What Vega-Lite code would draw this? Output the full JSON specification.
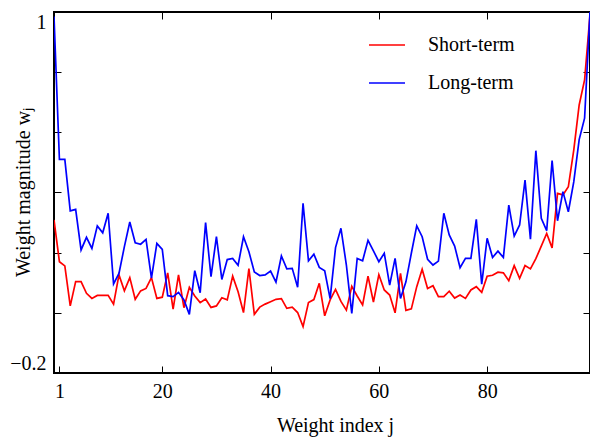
{
  "$schema": "https://vega.github.io/schema/vega-lite/v6.json",
  "width": 536,
  "height": 361,
  "autosize": {"type": "none"},
  "padding": {"left": 54, "top": 12, "right": 0, "bottom": 65},
  "background": "white",
  "config": {
    "font": "Liberation Serif",
    "view": {"stroke": "black", "strokeWidth": 2},
    "axis": {"grid": false, "domain": false, "tickColor": "black", "tickWidth": 1, "tickSize": -7, "labelColor": "black", "labelFontSize": 20, "titleFontSize": 20, "titleFontWeight": "normal", "titleColor": "black", "labelPadding": 15}
  },
  "data": {"values": [
    {"j":0,"Short-term":0.309,"Long-term":0.985},
    {"j":1,"Short-term":0.170,"Long-term":0.510},
    {"j":2,"Short-term":0.156,"Long-term":0.510},
    {"j":3,"Short-term":0.023,"Long-term":0.339},
    {"j":4,"Short-term":0.104,"Long-term":0.344},
    {"j":5,"Short-term":0.104,"Long-term":0.209},
    {"j":6,"Short-term":0.065,"Long-term":0.251},
    {"j":7,"Short-term":0.048,"Long-term":0.214},
    {"j":8,"Short-term":0.058,"Long-term":0.289},
    {"j":9,"Short-term":0.058,"Long-term":0.266},
    {"j":10,"Short-term":0.058,"Long-term":0.331},
    {"j":11,"Short-term":0.029,"Long-term":0.096},
    {"j":12,"Short-term":0.126,"Long-term":0.131},
    {"j":13,"Short-term":0.073,"Long-term":0.220},
    {"j":14,"Short-term":0.117,"Long-term":0.302},
    {"j":15,"Short-term":0.045,"Long-term":0.233},
    {"j":16,"Short-term":0.073,"Long-term":0.228},
    {"j":17,"Short-term":0.081,"Long-term":0.244},
    {"j":18,"Short-term":0.117,"Long-term":0.115},
    {"j":19,"Short-term":0.048,"Long-term":0.231},
    {"j":20,"Short-term":0.052,"Long-term":0.211},
    {"j":21,"Short-term":0.133,"Long-term":0.057},
    {"j":22,"Short-term":0.012,"Long-term":0.054},
    {"j":23,"Short-term":0.126,"Long-term":0.068},
    {"j":24,"Short-term":0.017,"Long-term":0.043},
    {"j":25,"Short-term":0.085,"Long-term":-0.005},
    {"j":26,"Short-term":0.056,"Long-term":0.140},
    {"j":27,"Short-term":0.034,"Long-term":0.067},
    {"j":28,"Short-term":0.046,"Long-term":0.300},
    {"j":29,"Short-term":0.018,"Long-term":0.120},
    {"j":30,"Short-term":0.023,"Long-term":0.253},
    {"j":31,"Short-term":0.050,"Long-term":0.111},
    {"j":32,"Short-term":0.043,"Long-term":0.177},
    {"j":33,"Short-term":0.122,"Long-term":0.181},
    {"j":34,"Short-term":0.070,"Long-term":0.158},
    {"j":35,"Short-term":0.001,"Long-term":0.253},
    {"j":36,"Short-term":0.147,"Long-term":0.203},
    {"j":37,"Short-term":-0.005,"Long-term":0.136},
    {"j":38,"Short-term":0.019,"Long-term":0.124},
    {"j":39,"Short-term":0.029,"Long-term":0.126},
    {"j":40,"Short-term":0.037,"Long-term":0.139},
    {"j":41,"Short-term":0.045,"Long-term":0.102},
    {"j":42,"Short-term":0.047,"Long-term":0.189},
    {"j":43,"Short-term":0.015,"Long-term":0.146},
    {"j":44,"Short-term":0.019,"Long-term":0.148},
    {"j":45,"Short-term":0.001,"Long-term":0.085},
    {"j":46,"Short-term":-0.046,"Long-term":0.364},
    {"j":47,"Short-term":0.034,"Long-term":0.173},
    {"j":48,"Short-term":0.044,"Long-term":0.195},
    {"j":49,"Short-term":0.098,"Long-term":0.151},
    {"j":50,"Short-term":-0.010,"Long-term":0.140},
    {"j":51,"Short-term":0.043,"Long-term":0.047},
    {"j":52,"Short-term":0.078,"Long-term":0.217},
    {"j":53,"Short-term":0.038,"Long-term":0.281},
    {"j":54,"Short-term":0.009,"Long-term":0.159},
    {"j":55,"Short-term":0.088,"Long-term":-0.002},
    {"j":56,"Short-term":0.056,"Long-term":0.181},
    {"j":57,"Short-term":0.026,"Long-term":0.173},
    {"j":58,"Short-term":0.122,"Long-term":0.241},
    {"j":59,"Short-term":0.036,"Long-term":0.206},
    {"j":60,"Short-term":0.127,"Long-term":0.170},
    {"j":61,"Short-term":0.076,"Long-term":0.198},
    {"j":62,"Short-term":0.059,"Long-term":0.092},
    {"j":63,"Short-term":0.000,"Long-term":0.181},
    {"j":64,"Short-term":0.131,"Long-term":0.048},
    {"j":65,"Short-term":0.008,"Long-term":0.103},
    {"j":66,"Short-term":0.013,"Long-term":0.198},
    {"j":67,"Short-term":0.087,"Long-term":0.289},
    {"j":68,"Short-term":0.145,"Long-term":0.253},
    {"j":69,"Short-term":0.081,"Long-term":0.178},
    {"j":70,"Short-term":0.090,"Long-term":0.159},
    {"j":71,"Short-term":0.054,"Long-term":0.172},
    {"j":72,"Short-term":0.054,"Long-term":0.331},
    {"j":73,"Short-term":0.072,"Long-term":0.259},
    {"j":74,"Short-term":0.049,"Long-term":0.222},
    {"j":75,"Short-term":0.059,"Long-term":0.150},
    {"j":76,"Short-term":0.048,"Long-term":0.181},
    {"j":77,"Short-term":0.076,"Long-term":0.181},
    {"j":78,"Short-term":0.087,"Long-term":0.311},
    {"j":79,"Short-term":0.068,"Long-term":0.095},
    {"j":80,"Short-term":0.122,"Long-term":0.248},
    {"j":81,"Short-term":0.125,"Long-term":0.184},
    {"j":82,"Short-term":0.135,"Long-term":0.205},
    {"j":83,"Short-term":0.133,"Long-term":0.184},
    {"j":84,"Short-term":0.107,"Long-term":0.358},
    {"j":85,"Short-term":0.157,"Long-term":0.255},
    {"j":86,"Short-term":0.115,"Long-term":0.292},
    {"j":87,"Short-term":0.157,"Long-term":0.441},
    {"j":88,"Short-term":0.146,"Long-term":0.245},
    {"j":89,"Short-term":0.180,"Long-term":0.539},
    {"j":90,"Short-term":0.222,"Long-term":0.314},
    {"j":91,"Short-term":0.264,"Long-term":0.273},
    {"j":92,"Short-term":0.216,"Long-term":0.506},
    {"j":93,"Short-term":0.397,"Long-term":0.306},
    {"j":94,"Short-term":0.392,"Long-term":0.403},
    {"j":95,"Short-term":0.419,"Long-term":0.336},
    {"j":96,"Short-term":0.541,"Long-term":0.435},
    {"j":97,"Short-term":0.691,"Long-term":0.576},
    {"j":98,"Short-term":0.774,"Long-term":0.647},
    {"j":99,"Short-term":0.990,"Long-term":1.0}
  ]},
  "transform": [{"fold": ["Short-term", "Long-term"], "as": ["series", "w"]}],
  "layer": [
    {
      "mark": {"type": "line", "strokeWidth": 1.7, "clip": true},
      "encoding": {
        "x": {"field": "j", "type": "quantitative", "scale": {"domain": [0, 99], "nice": false, "zero": false},
              "axis": {"orient": "bottom", "values": [1, 20, 40, 60, 80], "title": "Weight index j", "titleX": 281, "titleY": 58, "titleBaseline": "alphabetic", "titleAnchor": null}},
        "y": {"field": "w", "type": "quantitative", "scale": {"domain": [-0.2, 1], "nice": false, "zero": false},
              "axis": {"orient": "left", "values": [-0.2, 0, 0.2, 0.4, 0.6, 0.8, 1], "labelFlush": true,
                       "labelExpr": "abs(datum.value - 1) < 0.001 ? '1' : (abs(datum.value + 0.2) < 0.001 ? '−0.2' : '')",
                       "title": "Weight magnitude wⱼ", "titleX": -25, "titleY": 180, "titleAngle": -90, "titleBaseline": "alphabetic", "titleAlign": "center", "titleAnchor": null}},
        "color": {"field": "series", "type": "nominal", "sort": ["Short-term", "Long-term"],
                  "scale": {"domain": ["Short-term", "Long-term"], "range": ["#ff0000", "#0000ff"]},
                  "legend": {"title": null, "orient": "none", "legendX": 314, "legendY": 14, "padding": 0,
                             "symbolType": "stroke", "symbolSize": 1296, "symbolStrokeWidth": 1.5,
                             "labelFontSize": 20, "labelOffset": 22, "rowPadding": 9, "labelColor": "black"}}
      }
    },
    {
      "mark": {"type": "line", "strokeOpacity": 0},
      "encoding": {
        "x": {"field": "j", "type": "quantitative", "axis": {"orient": "top", "values": [20, 40, 60, 80], "labels": false, "title": null}},
        "y": {"field": "w", "type": "quantitative", "axis": {"orient": "right", "values": [0, 0.2, 0.4, 0.6, 0.8], "labels": false, "title": null}},
        "detail": {"field": "series", "type": "nominal"}
      }
    }
  ],
  "resolve": {"axis": {"x": "independent", "y": "independent"}}
}
